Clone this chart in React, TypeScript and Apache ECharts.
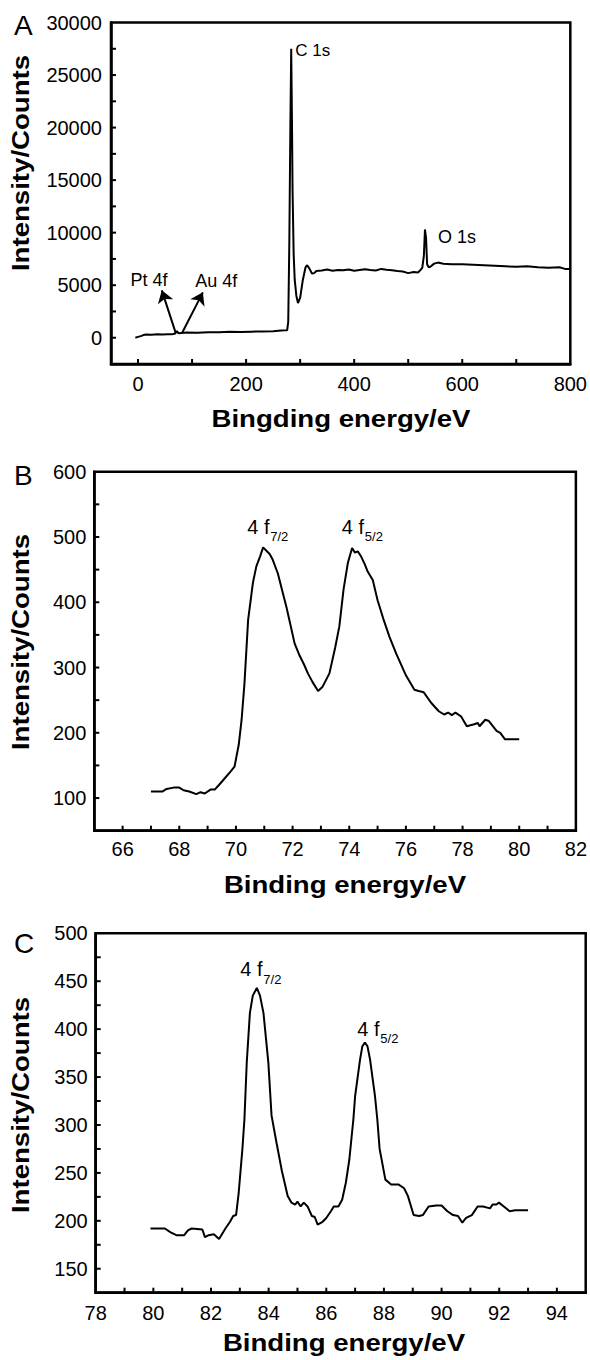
import React, { useEffect, useRef } from "react";
import * as echarts from "echarts";

// ---------- Panel A: survey spectrum ----------
const surveyEnergy = [
  -5, 0, 5, 10, 15, 25, 35, 45, 55, 62, 68, 72, 75, 80, 90, 110, 130, 150, 170, 190,
  210, 230, 250, 265, 272, 276, 278, 280, 282, 283.5, 285, 286, 288, 290, 293, 296, 300,
  305, 310, 313, 317, 322, 326, 330, 340, 350, 360, 370, 380, 390, 400, 410, 420, 430,
  440, 450, 460, 470, 480, 490, 500, 510, 518, 522, 526, 529, 531, 533, 535, 538, 542,
  548, 555, 565, 580, 600, 620, 640, 660, 680, 700, 720, 740, 760, 780, 790, 800,
];
const surveyCounts = [
  0, 80, 150, 250, 300, 280, 320, 300, 330, 320, 380, 620, 420, 460, 500, 480, 520, 510, 560, 540,
  580, 600, 620, 680, 700, 720, 1500, 9000, 20500, 27500, 20000, 14000, 8000, 5500, 4000, 3300, 3800,
  5500, 6700, 6900, 6600, 6100, 6150, 6350, 6400, 6500, 6380, 6450, 6420, 6500, 6380, 6450, 6520, 6450,
  6400, 6550, 6480, 6420, 6350, 6300, 6150, 6250, 6200, 6400, 6650, 7800, 10300, 9500, 7000, 6700, 6800,
  7050, 7150, 7050, 7000, 7000, 6950, 6900, 6850, 6800, 6750, 6800, 6700, 6650, 6700, 6550, 6550,
];
const surveyXTicks = [0, 100, 200, 300, 400, 500, 600, 700];
const surveyYTicks = [0, 2500, 5000, 7500, 10000, 12500, 15000, 17500, 20000, 22500, 25000, 27500];

// ---------- Panel B: Pt 4f ----------
const ptEnergy = [
  67.0, 67.4, 67.55, 67.8, 68.0, 68.15, 68.35, 68.6, 68.75, 68.9, 69.1, 69.25, 69.4, 69.6, 69.8,
  69.95, 70.1, 70.2, 70.3, 70.43, 70.6, 70.72, 70.85, 70.96, 71.05, 71.19, 71.3, 71.48, 71.65, 71.78,
  71.9, 72.07, 72.25, 72.4, 72.54, 72.7, 72.9, 73.05, 73.3, 73.5, 73.65, 73.8, 73.95, 74.1, 74.2,
  74.3, 74.42, 74.55, 74.65, 74.83, 75.0, 75.2, 75.42, 75.65, 76.0, 76.3, 76.45, 76.63, 76.89, 77.16,
  77.35, 77.49, 77.62, 77.75, 77.95, 78.15, 78.41, 78.54, 78.6, 78.8, 78.93, 79.2, 79.33, 79.5, 80.0,
];
const ptCounts = [
  110, 110, 114, 116, 116, 112, 110, 106, 109, 107, 113, 113, 120, 130, 140,
  148, 182, 220, 275, 373, 430, 455, 470, 484, 480, 474, 465, 444, 415, 393,
  370, 337, 318, 305, 291, 278, 264, 270, 291, 330, 363, 420, 460, 483, 476,
  478, 470, 458, 447, 434, 403, 375, 347, 322, 288, 266, 264, 262, 246, 233,
  228, 231, 227, 231, 225, 210, 213, 215, 210, 220, 218, 203, 200, 190, 190,
];
const ptXTicks = [66, 67, 68, 69, 70, 71, 72, 73, 74, 75, 76, 77, 78, 79, 80, 81];
const ptYTicks = [100, 150, 200, 250, 300, 350, 400, 450, 500, 550];

// ---------- Panel C: Au 4f ----------
const auEnergy = [
  79.9, 80.4, 80.6, 80.8, 81.07, 81.2, 81.33, 81.7, 81.79, 81.92, 82.1, 82.28, 82.5, 82.66, 82.77,
  82.87, 82.96, 83.09, 83.16, 83.24, 83.35, 83.45, 83.59, 83.7, 83.82, 83.99, 84.1, 84.27, 84.46, 84.66,
  84.79, 84.92, 85.0, 85.11, 85.22, 85.35, 85.5, 85.6, 85.7, 85.87, 86.0, 86.16, 86.26, 86.42, 86.55,
  86.68, 86.8, 86.94, 87.0, 87.17, 87.25, 87.34, 87.43, 87.52, 87.69, 87.77, 87.85, 88.05, 88.25, 88.5,
  88.7, 88.83, 89.03, 89.22, 89.35, 89.55, 89.81, 90.0, 90.2, 90.4, 90.57, 90.72, 90.85, 91.05, 91.25,
  91.44, 91.68, 91.77, 91.9, 91.99, 92.16, 92.36, 92.56, 93.0,
];
const auCounts = [
  192, 192, 188, 185, 185, 190, 192, 191, 183, 185, 186, 181, 192, 199, 205,
  206, 229, 275, 306, 365, 417, 435, 443, 435, 417, 365, 310, 282, 252, 226,
  219, 217, 220, 215, 219, 215, 205, 204, 196, 199, 203, 210, 215, 215, 222,
  240, 264, 306, 330, 368, 382, 386, 382, 368, 330, 306, 275, 243, 238, 238,
  234, 226, 206, 205, 206, 215, 216, 216, 210, 206, 205, 198, 203, 206, 215,
  215, 213, 217, 217, 219, 215, 210, 211, 211,
];
const auXTicks = [79, 80, 81, 82, 83, 84, 85, 86, 87, 88, 89, 90, 91, 92, 93, 94];
const auYTicks = [150, 175, 200, 225, 250, 275, 300, 325, 350, 375, 400, 425, 450, 475];

const FONT = "'Liberation Sans', Arial, Helvetica, sans-serif";
const TICK_LEN = 5;

function zip(xs: number[], ys: number[]) {
  return xs.map((x, i) => [x, ys[i]]);
}

// label shown only where value is a multiple of `step` and not below `from`
function stepFormatter(step: number, from: number) {
  return (v: number) => {
    const r = Math.abs(v / step - Math.round(v / step));
    return r < 1e-6 && v >= from - 1e-9 ? String(Math.round(v * 1000) / 1000) : "";
  };
}

function valueAxis(gridIndex: number, min: number, max: number, interval: number | null, formatter: any, margin: number) {
  const ax: any = {
    type: "value",
    gridIndex,
    min,
    max,
    axisLine: { show: true, onZero: false, lineStyle: { color: "#000", width: 2.5 } },
    axisTick: { show: false },
    axisLabel: {
      show: true,
      formatter,
      color: "#000",
      fontSize: 20,
      fontFamily: FONT,
      margin,
    },
    splitLine: { show: false },
  };
  if (interval) ax.interval = interval;
  return ax;
}

// inward tick marks drawn through the axes' own scales
function tickSeries(axisIndex: number, values: number[], fixed: number, vertical: boolean) {
  return {
    type: "custom",
    xAxisIndex: axisIndex,
    yAxisIndex: axisIndex,
    silent: true,
    z: 5,
    data: values.map((v) => (vertical ? [v, fixed] : [fixed, v])),
    renderItem: (_params: any, api: any) => {
      const p = api.coord([api.value(0), api.value(1)]);
      const shape = vertical
        ? { x1: p[0], y1: p[1], x2: p[0], y2: p[1] - TICK_LEN }
        : { x1: p[0], y1: p[1], x2: p[0] + TICK_LEN, y2: p[1] };
      return { type: "line", shape, style: { stroke: "#000", lineWidth: 2 } };
    },
  };
}

function textLabel(coord: number[], text: string, fontSize: number, offset: number[] = [0, 0]) {
  return {
    coord,
    symbol: "circle",
    symbolSize: 1,
    itemStyle: { color: "transparent" },
    label: {
      show: true,
      formatter: text,
      position: "right",
      distance: 0,
      offset,
      color: "#000",
      fontSize,
      fontFamily: FONT,
    },
  };
}

function gridBox(left: number, top: number, width: number, height: number) {
  return {
    left,
    top,
    width,
    height,
    show: true,
    borderColor: "#000",
    borderWidth: 2.5,
  };
}

function titleText(x: number, y: number, text: string, rotate: boolean) {
  return {
    type: "text",
    x,
    y,
    rotation: rotate ? Math.PI / 2 : 0,
    scaleX: 1.2,
    silent: true,
    style: {
      text,
      font: `bold 23px ${FONT}`,
      fill: "#000",
      align: "center",
      verticalAlign: "middle",
      textAlign: "center",
      textVerticalAlign: "middle",
    },
  };
}

function panelLetter(x: number, y: number, text: string) {
  return {
    type: "text",
    x,
    y,
    silent: true,
    style: {
      text,
      font: `28px ${FONT}`,
      fill: "#000",
      align: "left",
      verticalAlign: "middle",
      textAlign: "left",
      textVerticalAlign: "middle",
    },
  };
}

export default function App() {
  const ref = useRef<HTMLDivElement>(null);

  useEffect(() => {
    document.body.style.margin = "0";
    const chart = echarts.init(ref.current!, null, { renderer: "svg" });

    const lineStyle = { color: "#000", width: 2 };

    const option: any = {
      animation: false,
      backgroundColor: "#fff",
      grid: [
        gridBox(111, 22.5, 460, 341.5),
        gridBox(94.3, 471.7, 482.4, 359),
        gridBox(95.7, 933.3, 490, 359.4),
      ],
      xAxis: [
        valueAxis(0, -50, 800, null, stepFormatter(200, 0), 10),
        valueAxis(1, 65, 82, 1, stepFormatter(2, 66), 8),
        valueAxis(2, 78, 95, 1, stepFormatter(2, 78), 10),
      ],
      yAxis: [
        valueAxis(0, -2500, 30000, 2500, stepFormatter(5000, 0), 9),
        valueAxis(1, 50, 600, 50, stepFormatter(100, 100), 8),
        valueAxis(2, 125, 500, 25, stepFormatter(50, 150), 8),
      ],
      series: [
        {
          type: "line",
          xAxisIndex: 0,
          yAxisIndex: 0,
          data: zip(surveyEnergy, surveyCounts),
          symbol: "none",
          showSymbol: false,
          lineStyle,
          silent: true,
          markPoint: {
            silent: true,
            data: [
              textLabel([290, 27300], "C 1s", 17),
              textLabel([554, 9620], "O 1s", 18),
              textLabel([-15, 5470], "Pt 4f", 18),
              textLabel([105, 5370], "Au 4f", 18),
            ],
          },
          markLine: {
            silent: true,
            symbol: ["none", "arrow"],
            symbolSize: 12,
            lineStyle: { color: "#000", width: 2, type: "solid" },
            label: { show: false },
            data: [
              [{ coord: [70, 410] }, { coord: [44, 4510] }],
              [{ coord: [81, 410] }, { coord: [120, 4320] }],
            ],
          },
        },
        {
          type: "line",
          xAxisIndex: 1,
          yAxisIndex: 1,
          data: zip(ptEnergy, ptCounts),
          symbol: "none",
          showSymbol: false,
          lineStyle,
          silent: true,
          markPoint: {
            silent: true,
            data: [
              textLabel([70.38, 514.6], "4 f", 20),
              textLabel([70.38, 514.6], "7/2", 13, [23, 9]),
              textLabel([73.72, 515], "4 f", 20),
              textLabel([73.72, 515], "5/2", 13, [23, 9]),
            ],
          },
        },
        {
          type: "line",
          xAxisIndex: 2,
          yAxisIndex: 2,
          data: zip(auEnergy, auCounts),
          symbol: "none",
          showSymbol: false,
          lineStyle,
          silent: true,
          markPoint: {
            silent: true,
            data: [
              textLabel([83.0, 462.7], "4 f", 20),
              textLabel([83.0, 462.7], "7/2", 13, [23, 10]),
              textLabel([87.06, 400.3], "4 f", 20),
              textLabel([87.06, 400.3], "5/2", 13, [23, 10]),
            ],
          },
        },
        tickSeries(0, surveyXTicks, -2500, true),
        tickSeries(0, surveyYTicks, -50, false),
        tickSeries(1, ptXTicks, 50, true),
        tickSeries(1, ptYTicks, 65, false),
        tickSeries(2, auXTicks, 125, true),
        tickSeries(2, auYTicks, 78, false),
      ],
      graphic: [
        panelLetter(14, 25, "A"),
        panelLetter(14, 475, "B"),
        panelLetter(14, 943, "C"),
        titleText(21, 163, "Intensity/Counts", true),
        titleText(21, 642, "Intensity/Counts", true),
        titleText(21, 1105, "Intensity/Counts", true),
        titleText(341, 419, "Bingding energy/eV", false),
        titleText(345, 885, "Binding energy/eV", false),
        titleText(344, 1343, "Binding energy/eV", false),
      ],
    };

    chart.setOption(option);
    return () => chart.dispose();
  }, []);

  return <div ref={ref} style={{ width: 590, height: 1360 }} />;
}
